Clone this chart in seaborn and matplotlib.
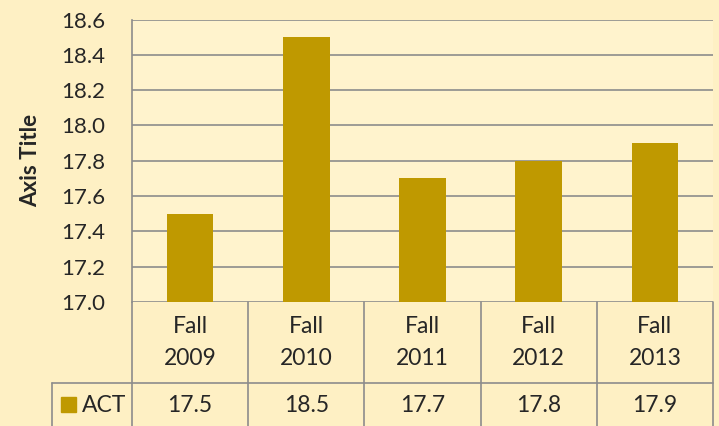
import matplotlib
matplotlib.use("Agg")
import matplotlib.pyplot as plt
import matplotlib.transforms as mtransforms
from matplotlib.lines import Line2D
from matplotlib.patches import Rectangle
import pandas as pd
import seaborn as sns

# data
years = ["Fall\n2009", "Fall\n2010", "Fall\n2011", "Fall\n2012", "Fall\n2013"]
act = [17.5, 18.5, 17.7, 17.8, 17.9]
series_name = "ACT"

bar_color = "#BF9900"
grid_color = "#8C8C8C"
outer_bg = "#FEF0C4"
inner_bg = "#FFF3CD"

sns.set_style("white")
plt.rcParams["font.family"] = ["Lato", "DejaVu Sans"]

W, H = 719, 426
fig = plt.figure(figsize=(W / 100, H / 100), dpi=100)
fig.patch.set_facecolor(outer_bg)

# axes placed in pixel terms
left, right, top, bottom = 132, 713, 19.5, 302
ax = fig.add_axes([left / W, 1 - bottom / H, (right - left) / W, (bottom - top) / H])
ax.set_facecolor(inner_bg)

df = pd.DataFrame({"year": years, "value": act})
sns.barplot(data=df, x="year", y="value", color=bar_color, saturation=1,
            width=0.4, linewidth=0, ax=ax)

ax.set_ylim(17.0, 18.6)
ax.set_xlim(-0.5, len(years) - 0.5)
ax.set_yticks([17.0 + 0.2 * i for i in range(9)])
ax.set_yticklabels([f"{17.0 + 0.2 * i:.1f}" for i in range(9)], fontsize=16)
ax.tick_params(axis="y", length=0, pad=19)
ax.set_xticks([])
ax.set_xlabel("")
ax.set_ylabel("Axis Title", fontsize=16, fontweight="bold", labelpad=15)

ax.yaxis.grid(True, color=grid_color, linewidth=1.2)
ax.set_axisbelow(True)
for s in ["top", "right", "bottom"]:
    ax.spines[s].set_visible(False)
ax.spines["left"].set_color(grid_color)
ax.spines["left"].set_linewidth(1.2)

# data table under the chart
trans = mtransforms.blended_transform_factory(ax.transData, fig.transFigure)
fy = lambda px: 1 - px / H
row1, row2, row3 = 302, 383, 440
lw = 1.2

# vertical lines at category borders
for i in range(len(years) + 1):
    x = i - 0.5
    fig.add_artist(Line2D([x, x], [fy(row1), fy(row3)], transform=trans,
                          color=grid_color, lw=lw))
# horizontal line between header and values, extends to legend cell
fig.add_artist(Line2D([52 / W, right / W], [fy(row2), fy(row2)],
                      transform=fig.transFigure, color=grid_color, lw=lw))
fig.add_artist(Line2D([52 / W, 52 / W], [fy(row2), fy(row3)],
                      transform=fig.transFigure, color=grid_color, lw=lw))

for i, (lab, v) in enumerate(zip(years, act)):
    ax.text(i, fy(342.5), lab, transform=trans, ha="center",
            va="center", fontsize=16.5, linespacing=1.6)
    ax.text(i, fy(405), f"{v:.1f}", transform=trans, ha="center",
            va="center", fontsize=16.5)

# legend key in the table
fig.add_artist(Rectangle((61 / W, fy(412)), 15 / W, 15 / H,
                         transform=fig.transFigure, color=bar_color))
fig.text(82 / W, fy(405), series_name, ha="left", va="center", fontsize=16.5)

fig.savefig("out.png", dpi=100, facecolor=outer_bg)
